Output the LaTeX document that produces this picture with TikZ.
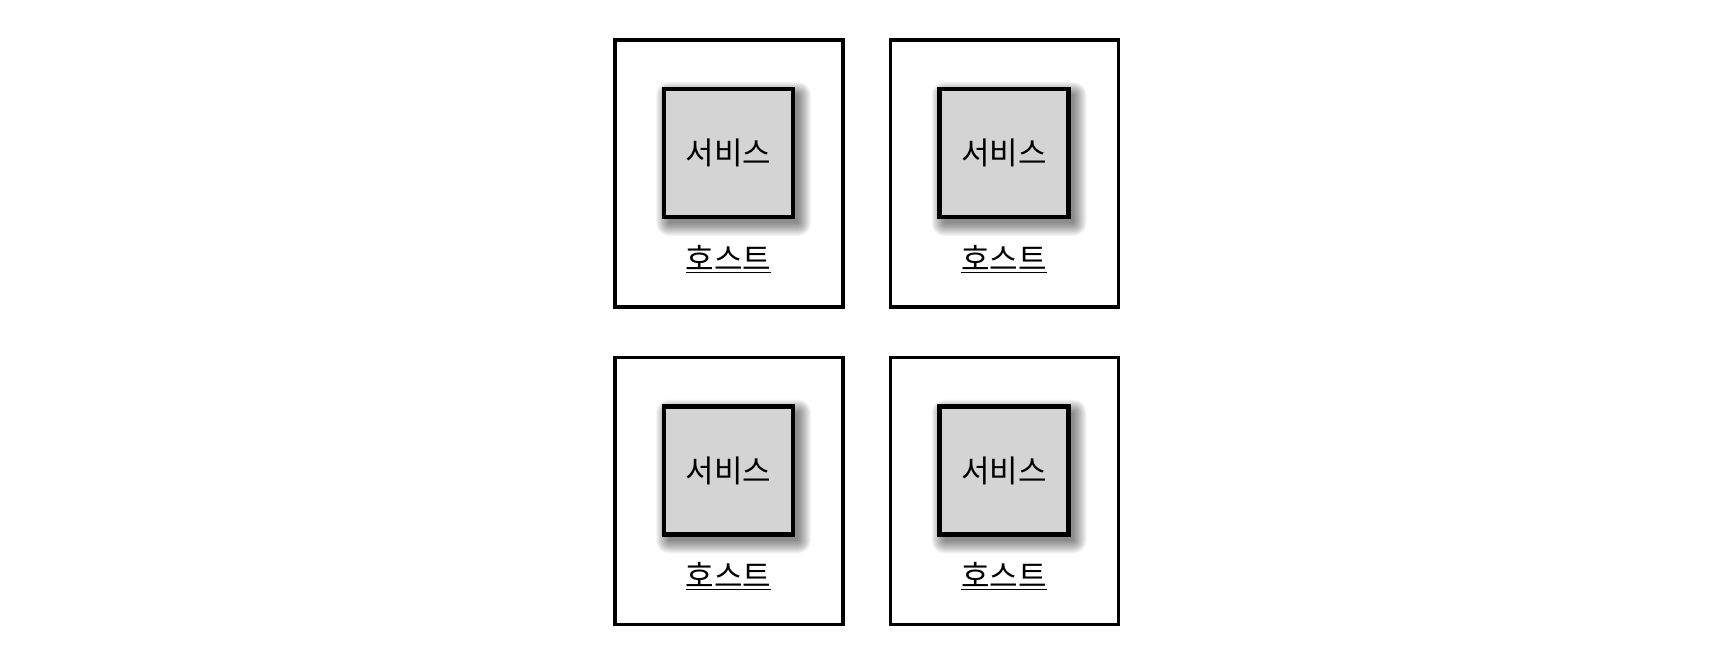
\documentclass[tikz,border=0pt]{standalone}
\usepackage{fontspec}
\setmainfont{Noto Sans CJK KR}
\usetikzlibrary{calc}
\tikzset{
  hostbox/.style={draw=black, line width=3.5pt, fill=white, minimum width=228pt, minimum height=267pt, inner sep=0pt},
  servicebox/.style={draw=black, line width=4.5pt, fill={rgb,255:red,212;green,212;blue,212}, minimum width=129pt, minimum height=128pt, inner sep=0pt},
  shadowlayer/.style={fill=black, opacity=0.04},
  svclabel/.style={font=\fontsize{31}{33}\selectfont, text=black},
  hostlabel/.style={font=\fontsize{31}{33}\selectfont, text=black}
}
\newcommand{\mysoftshadow}[1]{%
  \foreach \e in {0,1,...,13}{%
    \fill[shadowlayer, rounded corners=\e pt] ($(#1)+(-59.5-\e,-58-\e)$) rectangle ($(#1)+(69.5+\e,70+\e)$);%
  }%
}
\begin{document}
\begin{tikzpicture}[x=1pt,y=-1pt]
\useasboundingbox[fill=white] (0,0) rectangle (1732,660);
\coordinate (c1) at (728.5,153);
\coordinate (c2) at (1004,153);
\coordinate (c3) at (728.5,470.5);
\coordinate (c4) at (1004,470.5);
% hosts
\node[hostbox] (h1) at (729,173.5) {};
\node[hostbox] (h2) at (1004.5,173.5) {};
\node[hostbox] (h3) at (729,491) {};
\node[hostbox] (h4) at (1004.5,491) {};
% shadows
\mysoftshadow{c1}
\mysoftshadow{c2}
\mysoftshadow{c3}
\mysoftshadow{c4}
% services
\node[servicebox] (s1) at (c1) {};
\node[servicebox] (s2) at (c2) {};
\node[servicebox] (s3) at (c3) {};
\node[servicebox] (s4) at (c4) {};
\node[svclabel] (t1) at (s1.center) {서비스};
\node[svclabel] (t2) at (s2.center) {서비스};
\node[svclabel] (t3) at (s3.center) {서비스};
\node[svclabel] (t4) at (s4.center) {서비스};
% host labels
\node[hostlabel] (l1) at (728.5,259) {\underline{호스트}};
\node[hostlabel] (l2) at (1004,259) {\underline{호스트}};
\node[hostlabel] (l3) at (728.5,576) {\underline{호스트}};
\node[hostlabel] (l4) at (1004,576) {\underline{호스트}};
\end{tikzpicture}
\end{document}
